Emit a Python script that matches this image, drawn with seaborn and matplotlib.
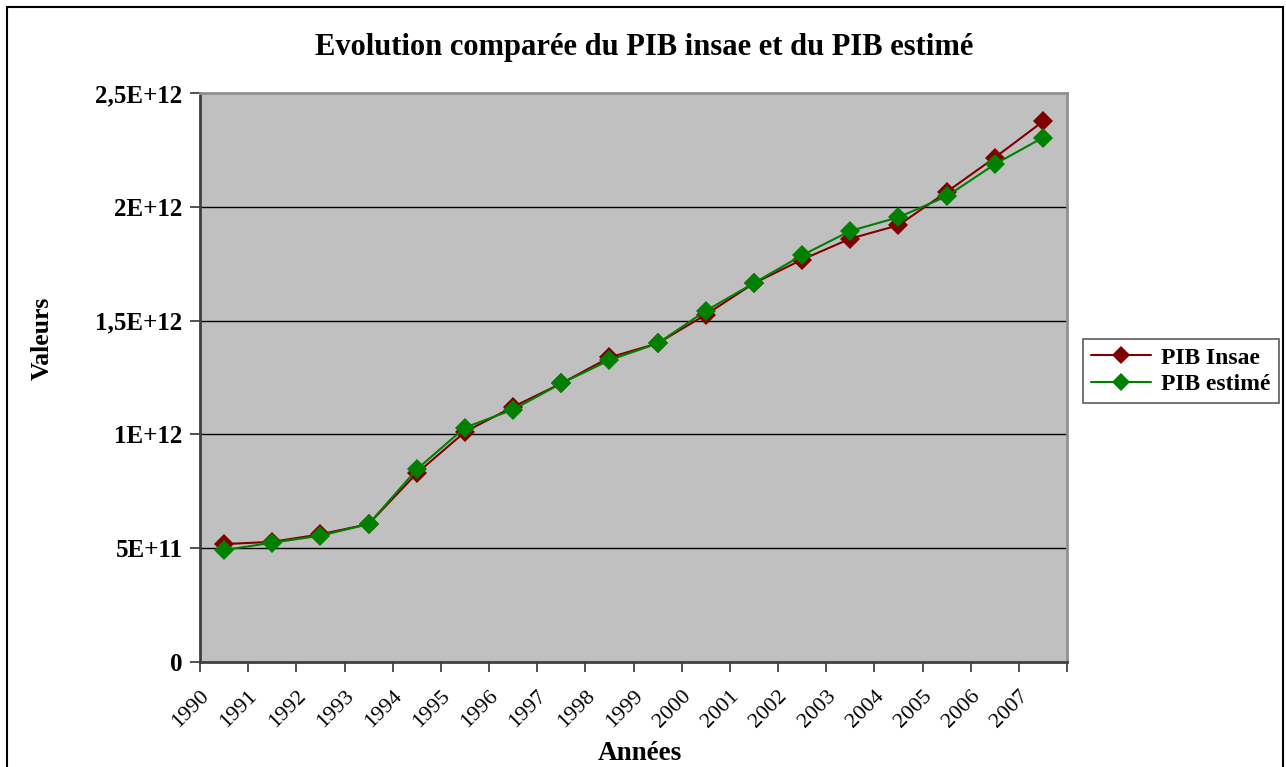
import numpy as np
import pandas as pd
import seaborn as sns
import matplotlib
matplotlib.use("Agg")
import matplotlib.pyplot as plt
from matplotlib.patches import Rectangle
from matplotlib.lines import Line2D

# Data
annees = [str(y) for y in range(1990, 2008)]
pib_insae = [0.518e12, 0.528e12, 0.561e12, 0.606e12, 0.829e12, 1.011e12, 1.121e12,
             1.224e12, 1.338e12, 1.400e12, 1.526e12, 1.664e12, 1.768e12, 1.860e12,
             1.919e12, 2.065e12, 2.216e12, 2.375e12]
pib_estime = [0.492e12, 0.524e12, 0.555e12, 0.606e12, 0.846e12, 1.030e12, 1.109e12,
              1.224e12, 1.326e12, 1.400e12, 1.543e12, 1.665e12, 1.787e12, 1.894e12,
              1.954e12, 2.046e12, 2.187e12, 2.304e12]
series_names = ["PIB Insae", "PIB estimé"]
y_ticks = [0, 5e11, 1e12, 1.5e12, 2e12, 2.5e12]
y_tick_labels = ["0", "5E+11", "1E+12", "1,5E+12", "2E+12", "2,5E+12"]

colors = {"PIB Insae": "#800000", "PIB estimé": "#008000"}

sns.set_theme(style="white")
plt.rcParams["font.family"] = ["Liberation Serif", "DejaVu Serif"]
plt.rcParams["text.color"] = "black"
plt.rcParams["xtick.color"] = "black"
plt.rcParams["ytick.color"] = "black"
plt.rcParams["axes.labelcolor"] = "black"

n = len(annees)
pos = np.arange(n) + 0.5
df = pd.DataFrame({
    "pos": np.concatenate([pos, pos]),
    "valeur": pib_insae + pib_estime,
    "serie": [series_names[0]] * n + [series_names[1]] * n,
})

W, H = 1286, 767
fig = plt.figure(figsize=(W / 100, H / 100), dpi=100)
fig.patch.set_facecolor("white")
ax = fig.add_axes([200 / W, 1 - 662 / H, 867 / W, 569 / H])
ax.set_facecolor("#C0C0C0")

sns.lineplot(data=df, x="pos", y="valeur", hue="serie", style="serie",
             palette=colors, markers={s: "D" for s in series_names},
             dashes=False, markersize=10.5, markeredgewidth=0, linewidth=1.5,
             legend=False, ax=ax, zorder=3)

ax.set_xlim(0, n)
ax.set_ylim(0, 2.5e12)

# horizontal gridlines
for v in y_ticks[1:-1]:
    ax.axhline(v, color="black", linewidth=1.0, zorder=1)

ax.set_yticks(y_ticks)
ax.set_yticklabels(y_tick_labels, fontsize=18, fontweight="bold", color="black")
ax.set_xticks(np.arange(n + 1))
ax.set_xticklabels(annees + [""], fontsize=16, fontweight="normal", color="black",
                   rotation=45, ha="right", va="top", rotation_mode="anchor")
ax.tick_params(axis="both", which="both", direction="out", length=7, width=1.2,
               color="#333333", left=True, bottom=True)
ax.tick_params(axis="y", pad=5.5)
ax.tick_params(axis="x", pad=11)

for side in ["left", "bottom"]:
    ax.spines[side].set_color("#404040")
    ax.spines[side].set_linewidth(2)
for side in ["top", "right"]:
    ax.spines[side].set_color("#909090")
    ax.spines[side].set_linewidth(2)

ax.set_xlabel("")
ax.set_ylabel("")

fig.text(644 / W, 1 - 47 / H, "Evolution comparée du PIB insae et du PIB estimé",
         ha="center", va="center", fontsize=22, fontweight="bold", color="black")
fig.text(640 / W, 1 - 754 / H, "Années", ha="center", va="center",
         fontsize=19.5, fontweight="bold", color="black")
fig.text(42 / W, 1 - 338 / H, "Valeurs", ha="center", va="center",
         rotation=90, fontsize=18.5, fontweight="bold", color="black")

handles = [Line2D([0], [0], color=colors[s], marker="D", markersize=9,
                  markeredgewidth=0, linewidth=1.5) for s in series_names]
leg = fig.legend(handles, series_names, loc="center",
                 bbox_to_anchor=(1181 / W, 1 - 371 / H),
                 prop={"family": "Liberation Serif", "weight": "bold", "size": 17},
                 frameon=True, fancybox=False, handlelength=2.5,
                 handletextpad=0.45, borderpad=0.35, labelspacing=0.2,
                 borderaxespad=0)
for t in leg.get_texts():
    t.set_color("black")
leg.get_frame().set_edgecolor("#333333")
leg.get_frame().set_linewidth(1.2)

# outer chart border
fig.patches.append(Rectangle((7 / W, -0.01), (1283 - 7) / W, 1 - 7 / H + 0.01,
                             transform=fig.transFigure, fill=False,
                             edgecolor="black", linewidth=1.5))

fig.savefig("out.png", dpi=100, facecolor="white")
